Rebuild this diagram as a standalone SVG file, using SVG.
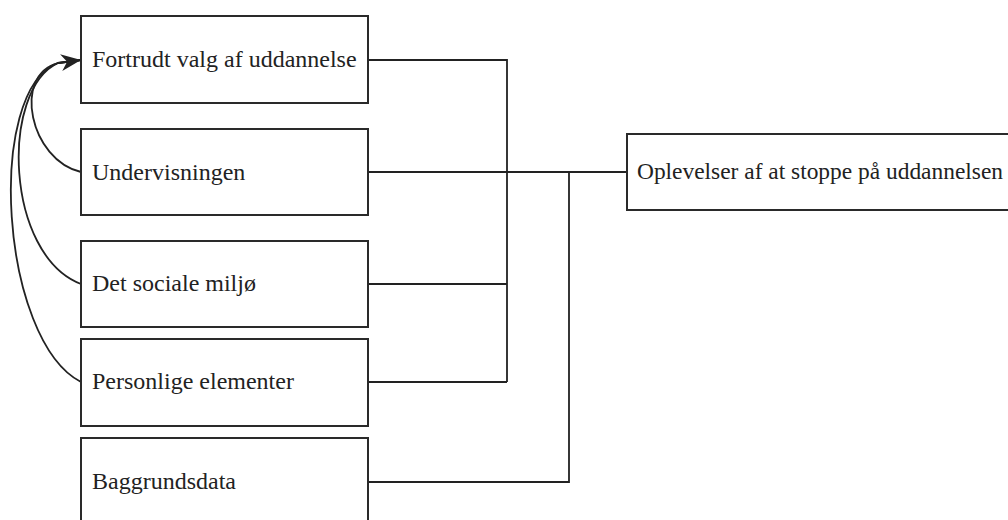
<svg xmlns="http://www.w3.org/2000/svg" width="1008" height="520" viewBox="0 0 1008 520">
<style>
.box{fill:#fff;stroke:#2a2a2a;stroke-width:2}
.t{font-family:"Liberation Serif","Times New Roman",serif;font-size:24px;fill:#222}
.c{fill:none;stroke:#222;stroke-width:1.8}
</style>
<defs>
<marker id="ah" viewBox="0 0 20 17" refX="20" refY="8.5" markerWidth="20" markerHeight="17" markerUnits="userSpaceOnUse" orient="auto">
<path d="M0,0 L20,8.5 L0,17 L6,8.5 Z" fill="#222"/>
</marker>
</defs>
<rect width="1008" height="520" fill="#fff"/>
<g id="connectors">
<path class="c" d="M368,60 H507 V382 M368,284 H507 M368,382 H507"/>
<path class="c" d="M368,172 H627"/>
<path class="c" d="M368,482 H569 V172"/>
<path class="c" d="M81,172 C30,160 12,75 58,63 L81,60"/>
<path class="c" d="M81,284 C5,255 0,90 58,63 L81,60"/>
<path class="c" d="M81,382 C0,340 -15,90 58,63 L81,60" marker-end="url(#ah)"/>
</g>
<g id="n1"><rect class="box" x="81" y="16" width="287" height="87"/><text class="t" x="92" y="67">Fortrudt valg af uddannelse</text></g>
<g id="n2"><rect class="box" x="81" y="129" width="287" height="86"/><text class="t" x="92" y="180">Undervisningen</text></g>
<g id="n3"><rect class="box" x="81" y="241" width="287" height="86"/><text class="t" x="92" y="291">Det sociale miljø</text></g>
<g id="n4"><rect class="box" x="81" y="339" width="287" height="87"/><text class="t" x="92" y="389">Personlige elementer</text></g>
<g id="n5"><rect class="box" x="81" y="438" width="287" height="100"/><text class="t" x="92" y="489">Baggrundsdata</text></g>
<g id="n6"><rect class="box" x="627" y="134" width="400" height="76"/><text class="t" x="637" y="179" textLength="366" lengthAdjust="spacingAndGlyphs">Oplevelser af at stoppe på uddannelsen</text></g>
</svg>
